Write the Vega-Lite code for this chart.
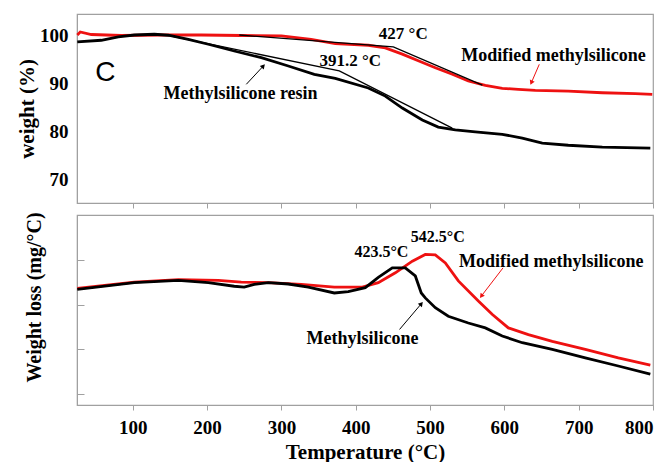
{
  "$schema": "https://vega.github.io/schema/vega-lite/v6.json",
  "padding": {"left": 15, "top": 13, "right": 5, "bottom": 5},
  "background": "white",
  "spacing": 1,
  "config": {
    "view": {"stroke": "#a0a0a0", "strokeWidth": 1.2},
    "axis": {"grid": false, "domainColor": "#a0a0a0", "tickColor": "#a0a0a0", "labelFont": "Liberation Serif", "labelFontWeight": "bold", "labelColor": "black", "labelFontSize": 19, "titleFont": "Liberation Serif", "titleFontWeight": "bold", "titleColor": "black"},
    "text": {"font": "Liberation Serif", "fontWeight": "bold", "fontSize": 17, "color": "black"}
  },
  "datasets": {
    "tga": [
      {"series": "Modified methylsilicone", "t": 25.4, "w": 100.2},
      {"series": "Modified methylsilicone", "t": 29.4, "w": 100.84},
      {"series": "Modified methylsilicone", "t": 44.2, "w": 100.3},
      {"series": "Modified methylsilicone", "t": 84.6, "w": 100.1},
      {"series": "Modified methylsilicone", "t": 138.4, "w": 100.2},
      {"series": "Modified methylsilicone", "t": 192.2, "w": 100.2},
      {"series": "Modified methylsilicone", "t": 246, "w": 100.1},
      {"series": "Modified methylsilicone", "t": 300, "w": 100.0},
      {"series": "Modified methylsilicone", "t": 340, "w": 99.3},
      {"series": "Modified methylsilicone", "t": 372.6, "w": 98.4},
      {"series": "Modified methylsilicone", "t": 417, "w": 98.05},
      {"series": "Modified methylsilicone", "t": 439.8, "w": 97.5},
      {"series": "Modified methylsilicone", "t": 462.7, "w": 96.2},
      {"series": "Modified methylsilicone", "t": 484.2, "w": 94.8},
      {"series": "Modified methylsilicone", "t": 507.1, "w": 93.35},
      {"series": "Modified methylsilicone", "t": 530, "w": 91.97},
      {"series": "Modified methylsilicone", "t": 551.5, "w": 90.56},
      {"series": "Modified methylsilicone", "t": 574.4, "w": 89.66},
      {"series": "Modified methylsilicone", "t": 597.2, "w": 89.03},
      {"series": "Modified methylsilicone", "t": 618.8, "w": 88.8},
      {"series": "Modified methylsilicone", "t": 641.6, "w": 88.6},
      {"series": "Modified methylsilicone", "t": 686, "w": 88.46},
      {"series": "Modified methylsilicone", "t": 731.8, "w": 88.1},
      {"series": "Modified methylsilicone", "t": 776.2, "w": 87.9},
      {"series": "Modified methylsilicone", "t": 799, "w": 87.77},
      {"series": "Methylsilicone resin", "t": 25.4, "w": 98.74},
      {"series": "Methylsilicone resin", "t": 57.7, "w": 99.1},
      {"series": "Methylsilicone resin", "t": 80.6, "w": 99.8},
      {"series": "Methylsilicone resin", "t": 102.1, "w": 100.2},
      {"series": "Methylsilicone resin", "t": 129, "w": 100.36},
      {"series": "Methylsilicone resin", "t": 147.8, "w": 100.15},
      {"series": "Methylsilicone resin", "t": 174.8, "w": 99.3},
      {"series": "Methylsilicone resin", "t": 201.7, "w": 98.26},
      {"series": "Methylsilicone resin", "t": 236.6, "w": 96.85},
      {"series": "Methylsilicone resin", "t": 273, "w": 95.45},
      {"series": "Methylsilicone resin", "t": 309.3, "w": 93.7},
      {"series": "Methylsilicone resin", "t": 344.3, "w": 91.97},
      {"series": "Methylsilicone resin", "t": 372.5, "w": 91.1},
      {"series": "Methylsilicone resin", "t": 416.9, "w": 89.1},
      {"series": "Methylsilicone resin", "t": 439.8, "w": 87.4},
      {"series": "Methylsilicone resin", "t": 462.7, "w": 84.9},
      {"series": "Methylsilicone resin", "t": 489.6, "w": 82.4},
      {"series": "Methylsilicone resin", "t": 511.1, "w": 80.9},
      {"series": "Methylsilicone resin", "t": 534, "w": 80.3},
      {"series": "Methylsilicone resin", "t": 560.9, "w": 79.9},
      {"series": "Methylsilicone resin", "t": 597.2, "w": 79.4},
      {"series": "Methylsilicone resin", "t": 624.1, "w": 78.6},
      {"series": "Methylsilicone resin", "t": 651, "w": 77.55},
      {"series": "Methylsilicone resin", "t": 686, "w": 77.1},
      {"series": "Methylsilicone resin", "t": 731.8, "w": 76.7},
      {"series": "Methylsilicone resin", "t": 796.4, "w": 76.5}
    ],
    "tangent": [
      {"line": "a", "t": 142.5, "w": 100.3},
      {"line": "a", "t": 377.9, "w": 92.66},
      {"line": "a", "t": 529.9, "w": 80.7},
      {"line": "b", "t": 243.4, "w": 100.2},
      {"line": "b", "t": 450.6, "w": 97.7},
      {"line": "b", "t": 570.4, "w": 89.7}
    ],
    "dtg": [
      {"series": "Modified methylsilicone", "t": 25.4, "d": 2.36},
      {"series": "Modified methylsilicone", "t": 102.1, "d": 2.5},
      {"series": "Modified methylsilicone", "t": 161.3, "d": 2.56},
      {"series": "Modified methylsilicone", "t": 215.1, "d": 2.54},
      {"series": "Modified methylsilicone", "t": 246, "d": 2.5},
      {"series": "Modified methylsilicone", "t": 282.4, "d": 2.49},
      {"series": "Modified methylsilicone", "t": 326.8, "d": 2.45},
      {"series": "Modified methylsilicone", "t": 371.2, "d": 2.39},
      {"series": "Modified methylsilicone", "t": 408.9, "d": 2.39},
      {"series": "Modified methylsilicone", "t": 430.4, "d": 2.49},
      {"series": "Modified methylsilicone", "t": 453.3, "d": 2.71},
      {"series": "Modified methylsilicone", "t": 476.2, "d": 2.97},
      {"series": "Modified methylsilicone", "t": 493.6, "d": 3.12},
      {"series": "Modified methylsilicone", "t": 507.1, "d": 3.11},
      {"series": "Modified methylsilicone", "t": 520.6, "d": 2.93},
      {"series": "Modified methylsilicone", "t": 538.1, "d": 2.53},
      {"series": "Modified methylsilicone", "t": 565, "d": 2.08},
      {"series": "Modified methylsilicone", "t": 583.9, "d": 1.78},
      {"series": "Modified methylsilicone", "t": 605.4, "d": 1.48},
      {"series": "Modified methylsilicone", "t": 632.3, "d": 1.33},
      {"series": "Modified methylsilicone", "t": 664.5, "d": 1.18},
      {"series": "Modified methylsilicone", "t": 708.9, "d": 1.0},
      {"series": "Modified methylsilicone", "t": 753.3, "d": 0.81},
      {"series": "Modified methylsilicone", "t": 796.4, "d": 0.65},
      {"series": "Methylsilicone resin", "t": 25.4, "d": 2.34},
      {"series": "Methylsilicone resin", "t": 102.1, "d": 2.49},
      {"series": "Methylsilicone resin", "t": 161.3, "d": 2.54},
      {"series": "Methylsilicone resin", "t": 201.7, "d": 2.49},
      {"series": "Methylsilicone resin", "t": 236.6, "d": 2.41},
      {"series": "Methylsilicone resin", "t": 250, "d": 2.39},
      {"series": "Methylsilicone resin", "t": 263.5, "d": 2.45},
      {"series": "Methylsilicone resin", "t": 282.4, "d": 2.49},
      {"series": "Methylsilicone resin", "t": 309.3, "d": 2.46},
      {"series": "Methylsilicone resin", "t": 336.2, "d": 2.39},
      {"series": "Methylsilicone resin", "t": 371.2, "d": 2.26},
      {"series": "Methylsilicone resin", "t": 390, "d": 2.29},
      {"series": "Methylsilicone resin", "t": 412.9, "d": 2.38},
      {"series": "Methylsilicone resin", "t": 430.4, "d": 2.61},
      {"series": "Methylsilicone resin", "t": 449.2, "d": 2.82},
      {"series": "Methylsilicone resin", "t": 466.7, "d": 2.82},
      {"series": "Methylsilicone resin", "t": 480.2, "d": 2.64},
      {"series": "Methylsilicone resin", "t": 488.2, "d": 2.26},
      {"series": "Methylsilicone resin", "t": 493.6, "d": 2.15},
      {"series": "Methylsilicone resin", "t": 507.1, "d": 1.93},
      {"series": "Methylsilicone resin", "t": 524.6, "d": 1.74},
      {"series": "Methylsilicone resin", "t": 551.5, "d": 1.59},
      {"series": "Methylsilicone resin", "t": 574.4, "d": 1.48},
      {"series": "Methylsilicone resin", "t": 597.2, "d": 1.3},
      {"series": "Methylsilicone resin", "t": 624.1, "d": 1.15},
      {"series": "Methylsilicone resin", "t": 664.5, "d": 1.0},
      {"series": "Methylsilicone resin", "t": 708.9, "d": 0.81},
      {"series": "Methylsilicone resin", "t": 753.3, "d": 0.63},
      {"series": "Methylsilicone resin", "t": 796.4, "d": 0.45}
    ],
    "annTop": [
      {"kind": "temp", "label": "427 °C", "t": 464, "w": 100.42},
      {"kind": "temp", "label": "391.2 °C", "t": 392.7, "w": 94.76},
      {"kind": "name", "label": "Methylsilicone resin", "t": 245, "w": 87.94},
      {"kind": "name", "label": "Modified methylsilicone", "t": 666, "w": 95.9}
    ],
    "annBot": [
      {"kind": "temp", "label": "423.5°C", "t": 434.6, "d": 3.17},
      {"kind": "temp", "label": "542.5°C", "t": 510.5, "d": 3.51},
      {"kind": "name", "label": "Modified methylsilicone", "t": 663, "d": 2.95},
      {"kind": "name", "label": "Methylsilicone", "t": 409, "d": 1.24}
    ],
    "arrTop": [
      {"series": "Methylsilicone resin", "t": 252.8, "w": 89.87, "t2": 275.7, "w2": 93.7},
      {"series": "Modified methylsilicone", "t": 647, "w": 94.06, "t2": 636.3, "w2": 90.2}
    ],
    "arrBot": [
      {"series": "Modified methylsilicone", "t": 598.2, "d": 2.82, "t2": 569, "d2": 2.19},
      {"series": "Methylsilicone resin", "t": 459, "d": 1.446, "t2": 488.3, "d2": 2.02}
    ],
    "panelLetter": [{"label": "C", "t": 63, "w": 92.3}]
  },
  "vconcat": [
    {
      "width": 576,
      "height": 189,
      "layer": [
        {
          "data": {"name": "tga"},
          "mark": {"type": "line", "strokeWidth": 2.8},
          "encoding": {
            "x": {"field": "t", "type": "quantitative", "scale": {"domain": [25, 800], "nice": false}, "axis": {"values": [100, 200, 300, 400, 500, 600, 700, 800], "labels": false, "title": null, "tickSize": 5}},
            "y": {"field": "w", "type": "quantitative", "scale": {"domain": [65, 104.6], "nice": false, "zero": false}, "axis": {"values": [70, 80, 90, 100], "ticks": false, "domain": true, "labelPadding": 9, "title": "weight (%)", "titleFontSize": 21, "titlePadding": 2}},
            "color": {"field": "series", "type": "nominal", "scale": {"domain": ["Modified methylsilicone", "Methylsilicone resin"], "range": ["#ee1111", "#000000"]}, "legend": null},
            "order": {"field": "t", "type": "quantitative"}
          }
        },
        {
          "data": {"name": "tangent"},
          "mark": {"type": "line", "strokeWidth": 1.3, "color": "black"},
          "encoding": {
            "x": {"field": "t", "type": "quantitative"},
            "y": {"field": "w", "type": "quantitative"},
            "detail": {"field": "line", "type": "nominal"}
          }
        },
        {
          "data": {"name": "annTop"},
          "transform": [{"filter": "datum.kind == 'temp'"}],
          "mark": {"type": "text", "fontSize": 17},
          "encoding": {
            "x": {"field": "t", "type": "quantitative"},
            "y": {"field": "w", "type": "quantitative"},
            "text": {"field": "label"}
          }
        },
        {
          "data": {"name": "annTop"},
          "transform": [{"filter": "datum.kind == 'name'"}],
          "mark": {"type": "text", "fontSize": 18},
          "encoding": {
            "x": {"field": "t", "type": "quantitative"},
            "y": {"field": "w", "type": "quantitative"},
            "text": {"field": "label"}
          }
        },
        {
          "data": {"name": "panelLetter"},
          "mark": {"type": "text", "font": "Liberation Sans", "fontWeight": "normal", "fontSize": 28},
          "encoding": {
            "x": {"field": "t", "type": "quantitative"},
            "y": {"field": "w", "type": "quantitative"},
            "text": {"field": "label"}
          }
        },
        {
          "data": {"name": "arrTop"},
          "mark": {"type": "rule", "strokeWidth": 1},
          "encoding": {
            "x": {"field": "t", "type": "quantitative"},
            "y": {"field": "w", "type": "quantitative"},
            "x2": {"field": "t2"},
            "y2": {"field": "w2"},
            "color": {"field": "series", "type": "nominal"}
          }
        },
        {
          "data": {"name": "arrTop"},
          "transform": [{"filter": "datum.series == 'Methylsilicone resin'"}],
          "mark": {"type": "point", "shape": "triangle-up", "filled": true, "size": 28, "angle": 42, "opacity": 1, "color": "#000000"},
          "encoding": {
            "x": {"field": "t2", "type": "quantitative"},
            "y": {"field": "w2", "type": "quantitative"}
          }
        },
        {
          "data": {"name": "arrTop"},
          "transform": [{"filter": "datum.series == 'Modified methylsilicone'"}],
          "mark": {"type": "point", "shape": "triangle-up", "filled": true, "size": 28, "angle": 204, "opacity": 1, "color": "#ee1111"},
          "encoding": {
            "x": {"field": "t2", "type": "quantitative"},
            "y": {"field": "w2", "type": "quantitative"}
          }
        }
      ]
    },
    {
      "width": 576,
      "height": 190,
      "layer": [
        {
          "data": {"name": "dtg"},
          "mark": {"type": "line", "strokeWidth": 2.8},
          "encoding": {
            "x": {"field": "t", "type": "quantitative", "scale": {"domain": [25, 800], "nice": false}, "axis": {"values": [100, 200, 300, 400, 500, 600, 700, 800], "tickSize": 5, "labelPadding": 8, "title": "Temperature  (°C)", "titleFontSize": 21, "titlePadding": 4}},
            "y": {"field": "d", "type": "quantitative", "scale": {"domain": [-0.24, 4.0], "nice": false, "zero": false}, "axis": {"values": [0, 1, 2, 3, 4], "labels": false, "tickSize": -7, "title": "Weight loss (mg/°C)", "titleFontSize": 20, "titlePadding": 32, "titleY": 82}},
            "color": {"field": "series", "type": "nominal", "scale": {"domain": ["Modified methylsilicone", "Methylsilicone resin"], "range": ["#ee1111", "#000000"]}, "legend": null},
            "order": {"field": "t", "type": "quantitative"}
          }
        },
        {
          "data": {"name": "annBot"},
          "transform": [{"filter": "datum.kind == 'temp'"}],
          "mark": {"type": "text", "fontSize": 16},
          "encoding": {
            "x": {"field": "t", "type": "quantitative"},
            "y": {"field": "d", "type": "quantitative"},
            "text": {"field": "label"}
          }
        },
        {
          "data": {"name": "annBot"},
          "transform": [{"filter": "datum.kind == 'name'"}],
          "mark": {"type": "text", "fontSize": 18},
          "encoding": {
            "x": {"field": "t", "type": "quantitative"},
            "y": {"field": "d", "type": "quantitative"},
            "text": {"field": "label"}
          }
        },
        {
          "data": {"name": "arrBot"},
          "mark": {"type": "rule", "strokeWidth": 1},
          "encoding": {
            "x": {"field": "t", "type": "quantitative"},
            "y": {"field": "d", "type": "quantitative"},
            "x2": {"field": "t2"},
            "y2": {"field": "d2"},
            "color": {"field": "series", "type": "nominal"}
          }
        },
        {
          "data": {"name": "arrBot"},
          "transform": [{"filter": "datum.series == 'Methylsilicone resin'"}],
          "mark": {"type": "point", "shape": "triangle-up", "filled": true, "size": 28, "angle": 40, "opacity": 1, "color": "#000000"},
          "encoding": {
            "x": {"field": "t2", "type": "quantitative"},
            "y": {"field": "d2", "type": "quantitative"}
          }
        },
        {
          "data": {"name": "arrBot"},
          "transform": [{"filter": "datum.series == 'Modified methylsilicone'"}],
          "mark": {"type": "point", "shape": "triangle-up", "filled": true, "size": 28, "angle": 217, "opacity": 1, "color": "#ee1111"},
          "encoding": {
            "x": {"field": "t2", "type": "quantitative"},
            "y": {"field": "d2", "type": "quantitative"}
          }
        }
      ]
    }
  ]
}
